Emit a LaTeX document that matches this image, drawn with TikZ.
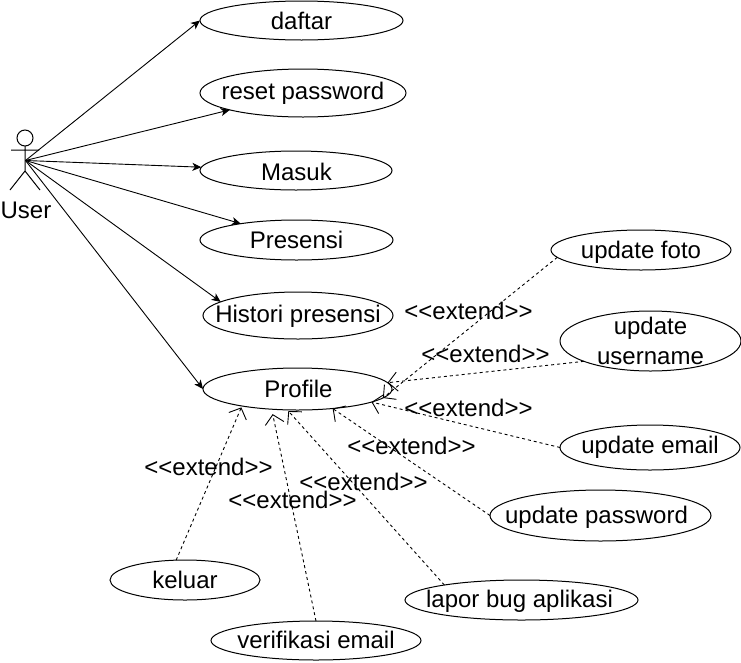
\documentclass[tikz,border=0pt]{standalone}
\usepackage{fontspec}
\setmainfont{Liberation Sans}
\usetikzlibrary{shapes.geometric,arrows.meta}
\tikzset{
  uc/.style n args={5}{ellipse,draw=black,line width=1pt,inner sep=0pt,outer sep=0pt,minimum width=#1,minimum height=#2,
    label={[inner sep=0pt,align=center,font=\fontsize{24}{30}\selectfont,xshift=#4,yshift=#5]center:#3}},
  assoc/.style={draw=black,line width=0.9pt,-{Stealth[length=9pt,width=8pt,inset=2.5pt]}},
  ext/.style={draw=black,line width=0.9pt,dash pattern=on 3pt off 3pt,-{Straight Barb[length=9pt,width=19pt,line width=0.9pt]}},
  extlabel/.style={inner sep=0pt,font=\fontsize{24}{28}\selectfont},
  actorpart/.style={draw=black,line width=1pt},
}
\begin{document}
\begin{tikzpicture}[x=1pt,y=-1pt]
\useasboundingbox[fill=white] (0,0) rectangle (741,662);
% actor
\node (head) [circle,draw=black,line width=1pt,minimum size=16pt,inner sep=0pt,outer sep=0pt] at (25,138) {};
\coordinate (neck) at (25,146);
\coordinate (waist) at (25,171);
\coordinate (armL) at (11,150);
\coordinate (armR) at (39,150);
\coordinate (footL) at (10,190);
\coordinate (footR) at (40,190);
\coordinate (actor) at (25.5,160.5);
\draw[actorpart] (neck) -- (waist) (armL) -- (armR) (footL) -- (waist) -- (footR);
\node (userlabel) [extlabel] at (26,210) {User};
% use cases
\node (daftar) [uc={203pt}{39pt}{daftar}{0pt}{0pt}] at (301.5,20.5) {};
\node (reset) [uc={206pt}{48pt}{reset password}{0pt}{0pt}] at (303,93) {};
\node (masuk) [uc={192pt}{39pt}{Masuk}{0.5pt}{-1pt}] at (296,170.5) {};
\node (presensi) [uc={193pt}{40pt}{Presensi}{0pt}{0pt}] at (296.5,240) {};
\node (histori) [uc={190pt}{47pt}{Histori presensi}{0pt}{-1pt}] at (298,315.5) {};
\node (profile) [uc={189pt}{42pt}{Profile}{1pt}{0pt}] at (297.5,389) {};
\node (foto) [uc={180pt}{40pt}{update foto}{0pt}{-2pt}] at (641,250) {};
\node (username) [uc={181pt}{60pt}{update\\username}{0pt}{0pt}] at (650.5,341) {};
\node (email) [uc={180pt}{45pt}{update email}{0pt}{0pt}] at (650,447.5) {};
\node (password) [uc={221pt}{51pt}{update password}{-4pt}{-2pt}] at (600.5,515.5) {};
\node (lapor) [uc={233pt}{40pt}{lapor bug aplikasi}{-2pt}{-1pt}] at (521.5,600) {};
\node (verif) [uc={210pt}{39pt}{verifikasi email}{0pt}{1pt}] at (316,640.5) {};
\node (keluar) [uc={150pt}{40pt}{keluar}{0pt}{0pt}] at (185,580) {};
% associations
\draw[assoc] (actor) -- (daftar.west);
\draw[assoc] (actor) -- (reset.193);
\draw[assoc] (actor) -- (masuk.178);
\draw[assoc] (actor) -- (presensi);
\draw[assoc] (actor) -- (histori.170);
\draw[assoc] (actor) -- (profile.west);
% extends
\draw[ext] (foto.185.5) -- (profile.-6);
\draw[ext] (username.197.3) -- (profile.4.6);
\draw[ext] (email.west) -- (profile.-10.2);
\draw[ext] (password.west) -- (profile.-29.6);
\draw[ext,shorten >=1.5pt] (lapor.169.6) -- (profile.-116.6);
\draw[ext,shorten >=5pt] (verif.north) -- (profile.-142);
\draw[ext,shorten >=1.5pt] (keluar.114) -- (profile.-163);
% labels
\node (e1) [extlabel] at (468.5,311) {{<}{<}extend{>}{>}};
\node (e2) [extlabel] at (485.5,353.5) {{<}{<}extend{>}{>}};
\node (e3) [extlabel] at (468.5,407.5) {{<}{<}extend{>}{>}};
\node (e4) [extlabel] at (411.5,446) {{<}{<}extend{>}{>}};
\node (e5) [extlabel] at (363.5,482) {{<}{<}extend{>}{>}};
\node (e6) [extlabel] at (292.5,500) {{<}{<}extend{>}{>}};
\node (e7) [extlabel] at (208.5,467) {{<}{<}extend{>}{>}};
\end{tikzpicture}
\end{document}
